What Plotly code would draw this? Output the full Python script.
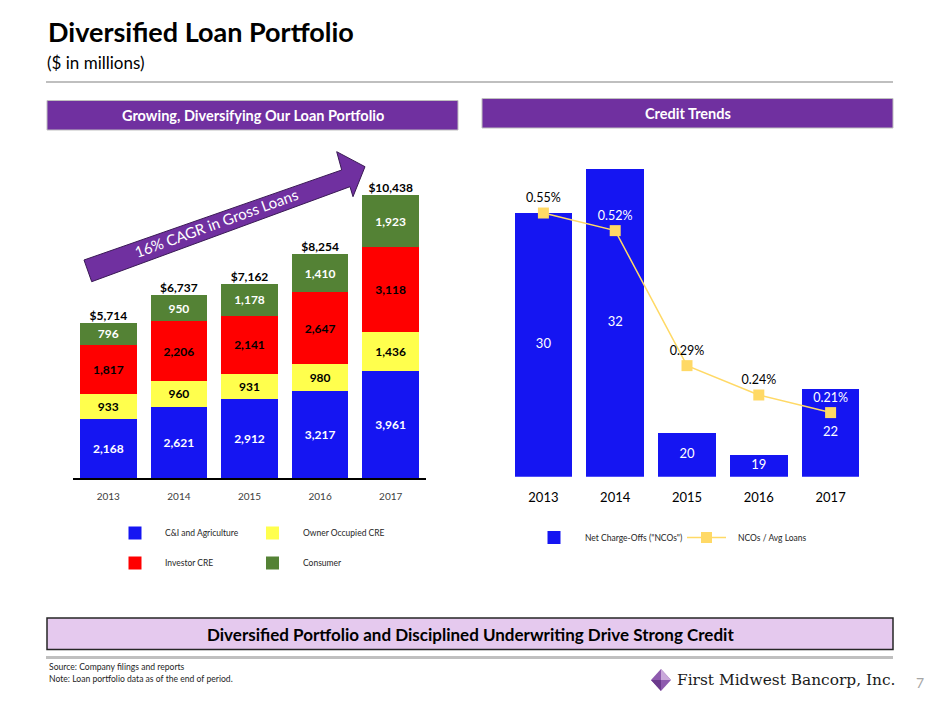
import plotly.graph_objects as go

# ---------------- data ----------------
years = ["2013", "2014", "2015", "2016", "2017"]
ci_agriculture = [2168, 2621, 2912, 3217, 3961]
owner_occupied_cre = [933, 960, 931, 980, 1436]
investor_cre = [1817, 2206, 2141, 2647, 3118]
consumer = [796, 950, 1178, 1410, 1923]
loan_series_names = ["C&I and Agriculture", "Owner Occupied CRE", "Investor CRE", "Consumer"]

nco_values = [30, 32, 20, 19, 22]
nco_ratio_pct = [0.55, 0.52, 0.29, 0.24, 0.21]
credit_series_names = ['Net Charge-Offs ("NCOs")', "NCOs / Avg Loans"]

totals = [a + b + c + d for a, b, c, d in zip(ci_agriculture, owner_occupied_cre, investor_cre, consumer)]

# ---------------- style ----------------
W, H = 940, 705
FONT = "Lato"
BLUE = "#1515F2"
YELLOW = "#FFFF4D"
RED = "#FF0000"
GREEN = "#548235"
PURPLE = "#7030A0"
LINE_Y = "#FFD966"
NCO_AXIS_MIN = 18


def px(x):
    return x / W


def py(y):
    return 1 - y / H


fig = go.Figure()

# ---------------- left stacked bars ----------------
seg_vals = [ci_agriculture, owner_occupied_cre, investor_cre, consumer]
seg_cols = [BLUE, YELLOW, RED, GREEN]
seg_txt = ["white", "black", "black", "white"]
for name, vals, col, tc in zip(loan_series_names, seg_vals, seg_cols, seg_txt):
    fig.add_trace(go.Bar(
        x=years, y=vals, name=name, marker=dict(color=col, line=dict(width=0)),
        texttemplate="%{y:,}", textposition="inside", insidetextanchor="middle",
        constraintext="none",
        textfont=dict(family=FONT, size=12, color=tc, weight="bold"),
        xaxis="x", yaxis="y", hoverinfo="skip",
    ))

fig.add_trace(go.Scatter(
    x=years, y=totals, mode="text", text=[f"${t:,}" for t in totals],
    textposition="top center",
    textfont=dict(family=FONT, size=12, color="black", weight="bold"),
    xaxis="x", yaxis="y", hoverinfo="skip",
))

# ---------------- right chart ----------------
fig.add_trace(go.Bar(
    x=years, y=nco_values, name=credit_series_names[0],
    marker=dict(color=BLUE, line=dict(width=0)), textposition="none",
    xaxis="x2", yaxis="y2", hoverinfo="skip",
))
# bar value labels centred in the visible part of each bar (axis starts above zero)
fig.add_trace(go.Scatter(
    x=years, y=[(NCO_AXIS_MIN + v) / 2 for v in nco_values], mode="text",
    text=[str(v) for v in nco_values], textposition="middle center",
    textfont=dict(family=FONT, size=13, color="white"),
    xaxis="x2", yaxis="y2", hoverinfo="skip",
))
fig.add_trace(go.Scatter(
    x=years, y=nco_ratio_pct, name=credit_series_names[1], mode="lines+markers+text",
    line=dict(color=LINE_Y, width=1.5),
    marker=dict(symbol="square", size=11, color=LINE_Y),
    text=[f"{v:.2f}%" for v in nco_ratio_pct], textposition="top center",
    textfont=dict(family=FONT, size=12.5, color=["black", "white", "black", "black", "white"]),
    xaxis="x2", yaxis="y3", hoverinfo="skip", cliponaxis=False,
))

fig.update_layout(
    width=W, height=H, margin=dict(l=0, r=0, t=0, b=0),
    paper_bgcolor="white", plot_bgcolor="white", showlegend=False,
    barmode="stack", bargap=0.2,
    font=dict(family=FONT, color="black"),
    xaxis=dict(domain=[px(73), px(426)], type="category", showline=True, linecolor="black",
               linewidth=1.5, showgrid=False, ticks="outside", ticklen=8,
               tickcolor="rgba(0,0,0,0)", tickfont=dict(family=FONT, size=10, color="#404040"),
               fixedrange=True),
    yaxis=dict(domain=[py(478), py(140)], range=[0, 12470], visible=False, fixedrange=True),
    xaxis2=dict(domain=[px(507.5), px(866.5)], type="category", showline=False, showgrid=False,
                ticks="outside", ticklen=9, tickcolor="rgba(0,0,0,0)",
                tickfont=dict(family=FONT, size=13, color="black"), anchor="y2", fixedrange=True),
    yaxis2=dict(domain=[py(476.7), py(140)], range=[NCO_AXIS_MIN, 33.3], visible=False, anchor="x2",
                fixedrange=True),
    yaxis3=dict(range=[0.1008, 0.6744], overlaying="y2", visible=False, anchor="x2",
                fixedrange=True),
)

shapes = []
ann = []


def text(x, y, s, size, color="black", family=FONT, xanchor="center", angle=0):
    ann.append(dict(x=px(x), y=py(y), xref="paper", yref="paper", xanchor=xanchor, yanchor="middle",
                    text=s, showarrow=False, textangle=angle,
                    font=dict(family=family, size=size, color=color)))


# title + subtitle + rule
text(46, 32, "<b>Diversified Loan Portfolio</b>", 27, xanchor="left")
text(45, 62, "($ in millions)", 17, xanchor="left")
shapes.append(dict(type="line", xref="paper", yref="paper", x0=px(46), x1=px(893), y0=py(82), y1=py(82),
                   line=dict(color="#BFBFBF", width=2)))

# section headers
for (x0, x1, y0, y1, txt) in [(47, 458, 100.5, 130, "Growing, Diversifying Our Loan Portfolio"),
                              (482, 893, 98.5, 128, "Credit Trends")]:
    shapes.append(dict(type="rect", xref="paper", yref="paper", x0=px(x0), x1=px(x1), y0=py(y1), y1=py(y0),
                       fillcolor=PURPLE, line=dict(color="#BFBFBF", width=1)))
    text((x0 + x1) / 2, (y0 + y1) / 2, f"<b>{txt}</b>", 14.5, color="white")

# CAGR arrow
arrow_pts = [(84, 260), (341.7, 170), (336.7, 151.7), (365, 166.7), (353, 196.7), (350, 186.7), (91.7, 281.7)]
path = "M " + " L ".join(f"{px(x):.5f},{py(y):.5f}" for x, y in arrow_pts) + " Z"
shapes.append(dict(type="path", xref="paper", yref="paper", path=path, fillcolor=PURPLE,
                   line=dict(color="#3A1A55", width=1)))
text(216, 223, "16% CAGR in Gross Loans", 15, color="white", angle=-20)

# left legend
leg_pos = [(135, 533, 163), (272.5, 533, 301), (135, 563, 163), (272.5, 563, 301)]
for (cx, cy, tx), name, col in zip(leg_pos, loan_series_names, seg_cols):
    shapes.append(dict(type="rect", xref="paper", yref="paper", x0=px(cx - 6.5), x1=px(cx + 6.5),
                       y0=py(cy + 6.5), y1=py(cy - 6.5), fillcolor=col, line=dict(width=0)))
    text(tx, cy, name, 8.5, color="#262626", xanchor="left")

# right legend
shapes.append(dict(type="rect", xref="paper", yref="paper", x0=px(547.5), x1=px(560.5),
                   y0=py(544), y1=py(531), fillcolor=BLUE, line=dict(width=0)))
text(583, 537.5, credit_series_names[0], 8.5, color="#262626", xanchor="left")
shapes.append(dict(type="line", xref="paper", yref="paper", x0=px(687), x1=px(726), y0=py(537.5), y1=py(537.5),
                   line=dict(color=LINE_Y, width=1.5)))
shapes.append(dict(type="rect", xref="paper", yref="paper", x0=px(701), x1=px(712),
                   y0=py(543), y1=py(532), fillcolor=LINE_Y, line=dict(width=0)))
text(736, 537.5, credit_series_names[1], 8.5, color="#262626", xanchor="left")

# bottom banner
shapes.append(dict(type="rect", xref="paper", yref="paper", x0=px(47), x1=px(893), y0=py(649.5), y1=py(618),
                   fillcolor="#E5C9EE", line=dict(color="#262626", width=1.5)))
text(470, 634, "<b>Diversified Portfolio and Disciplined Underwriting Drive Strong Credit</b>", 17)
shapes.append(dict(type="line", xref="paper", yref="paper", x0=px(46), x1=px(893), y0=py(657.5), y1=py(657.5),
                   line=dict(color="#BFBFBF", width=3)))

# footer
text(47, 667, "Source: Company filings and reports", 8.6, color="#262626", xanchor="left")
text(47, 679, "Note: Loan portfolio data as of the end of period.", 8.6, color="#262626", xanchor="left")

# logo
cx, cy = 661, 680
dia = [(cx, cy - 11), (cx + 10, cy), (cx, cy + 11), (cx - 10, cy)]
tri = [(cx, cy - 11), (cx + 10, cy), (cx, cy)]
tri2 = [(cx - 10, cy), (cx, cy), (cx, cy + 11)]
for pts, col in [(dia, "#8E5BAE"), (tri, "#C9A9DA"), (tri2, "#6B3A8C")]:
    shapes.append(dict(type="path", xref="paper", yref="paper",
                       path="M " + " L ".join(f"{px(x):.5f},{py(y):.5f}" for x, y in pts) + " Z",
                       fillcolor=col, line=dict(width=0)))
text(675, 680, "First Midwest Bancorp, Inc.", 15.4, color="#1a1a1a", family="DejaVu Serif", xanchor="left")
text(920, 682, "7", 14, color="#A6A6A6")

fig.update_layout(shapes=shapes, annotations=ann)
fig.write_html("out.html", config={"displayModeBar": False},
               post_script="document.body.style.margin='0';document.body.style.overflow='hidden';")
